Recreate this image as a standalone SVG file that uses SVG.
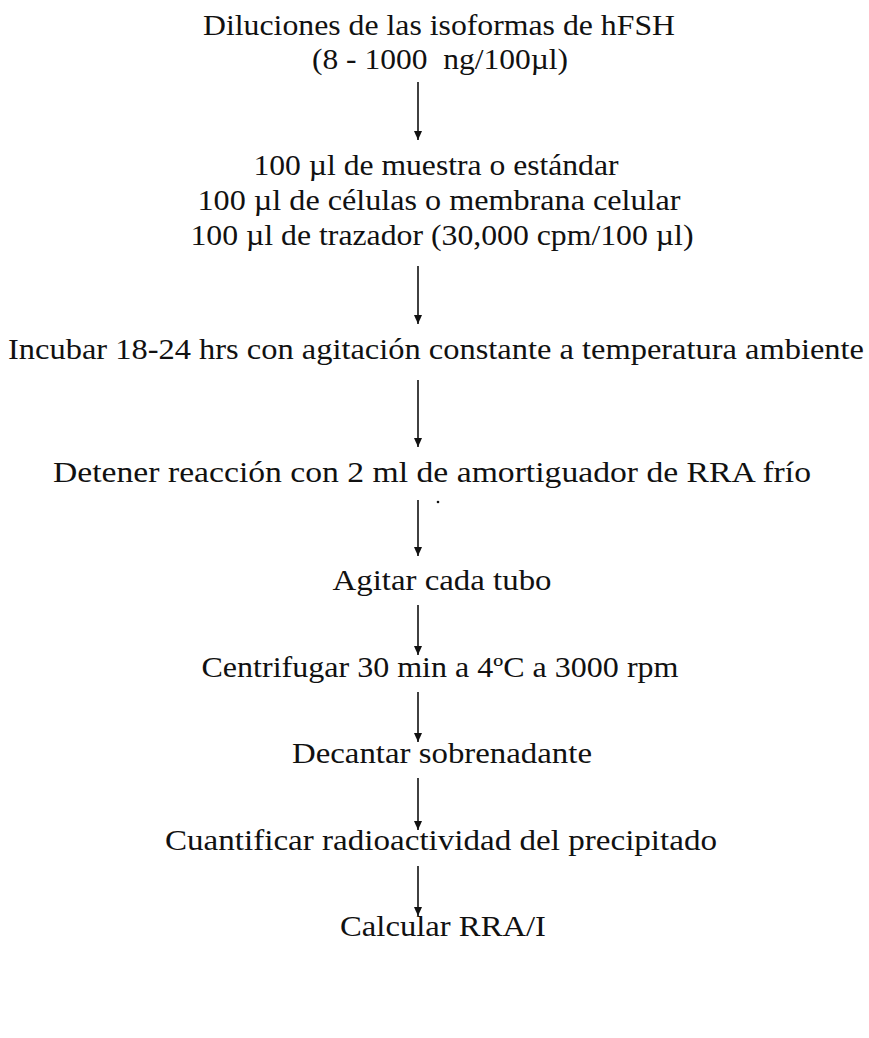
<svg xmlns="http://www.w3.org/2000/svg" width="869" height="1038" viewBox="0 0 869 1038">
<style>
  .t { font-family: "Liberation Serif", "Times New Roman", serif; font-size: 29px; fill: #111; text-anchor: middle; }
  .c line { stroke: #111; stroke-width: 1.6; }
</style>
<defs>
  <marker id="ahd" markerWidth="8" markerHeight="9" refX="4" refY="9" orient="0" markerUnits="userSpaceOnUse" viewBox="0 0 8 9">
    <path d="M0,0 L8,0 L4,9 Z" fill="#111"/>
  </marker>
</defs>
<rect width="869" height="1038" fill="#fff"/>
<g class="c" id="connectors">
  <line x1="418" y1="82" x2="418" y2="140" marker-end="url(#ahd)"/>
  <line x1="418" y1="266" x2="418" y2="324" marker-end="url(#ahd)"/>
  <line x1="418" y1="380" x2="418" y2="447" marker-end="url(#ahd)"/>
  <line x1="418" y1="500" x2="418" y2="556" marker-end="url(#ahd)"/>
  <line x1="418" y1="605" x2="418" y2="655" marker-end="url(#ahd)"/>
  <line x1="418" y1="692" x2="418" y2="742" marker-end="url(#ahd)"/>
  <line x1="418" y1="778" x2="418" y2="830" marker-end="url(#ahd)"/>
  <line x1="418" y1="866" x2="418" y2="916" marker-end="url(#ahd)"/>
</g>
<g id="n1"><text class="t" x="439" y="35" textLength="472" lengthAdjust="spacingAndGlyphs">Diluciones de las isoformas de hFSH</text>
<text class="t" x="440" y="69" textLength="256" lengthAdjust="spacingAndGlyphs" xml:space="preserve">(8 - 1000  ng/100µl)</text></g>
<g id="n2"><text class="t" x="436" y="175" textLength="365" lengthAdjust="spacingAndGlyphs">100 µl de muestra o estándar</text>
<text class="t" x="439" y="210" textLength="483" lengthAdjust="spacingAndGlyphs">100 µl de células o membrana celular</text>
<text class="t" x="442" y="245" textLength="503" lengthAdjust="spacingAndGlyphs">100 µl de trazador (30,000 cpm/100 µl)</text></g>
<g id="n3"><text class="t" x="436" y="359" textLength="856" lengthAdjust="spacingAndGlyphs">Incubar 18-24 hrs con agitación constante a temperatura ambiente</text></g>
<g id="n4"><text class="t" x="432" y="482" textLength="758" lengthAdjust="spacingAndGlyphs">Detener reacción con 2 ml de amortiguador de RRA frío</text></g>
<circle cx="438" cy="502" r="1.3" fill="#111"/>
<g id="n5"><text class="t" x="442" y="590" textLength="219" lengthAdjust="spacingAndGlyphs">Agitar cada tubo</text></g>
<g id="n6"><text class="t" x="440" y="677" textLength="477" lengthAdjust="spacingAndGlyphs">Centrifugar 30 min a 4ºC a 3000 rpm</text></g>
<g id="n7"><text class="t" x="442" y="763" textLength="300" lengthAdjust="spacingAndGlyphs">Decantar sobrenadante</text></g>
<g id="n8"><text class="t" x="441" y="850" textLength="552" lengthAdjust="spacingAndGlyphs">Cuantificar radioactividad del precipitado</text></g>
<g id="n9"><text class="t" x="443" y="936" textLength="206" lengthAdjust="spacingAndGlyphs">Calcular RRA/I</text></g>
</svg>
